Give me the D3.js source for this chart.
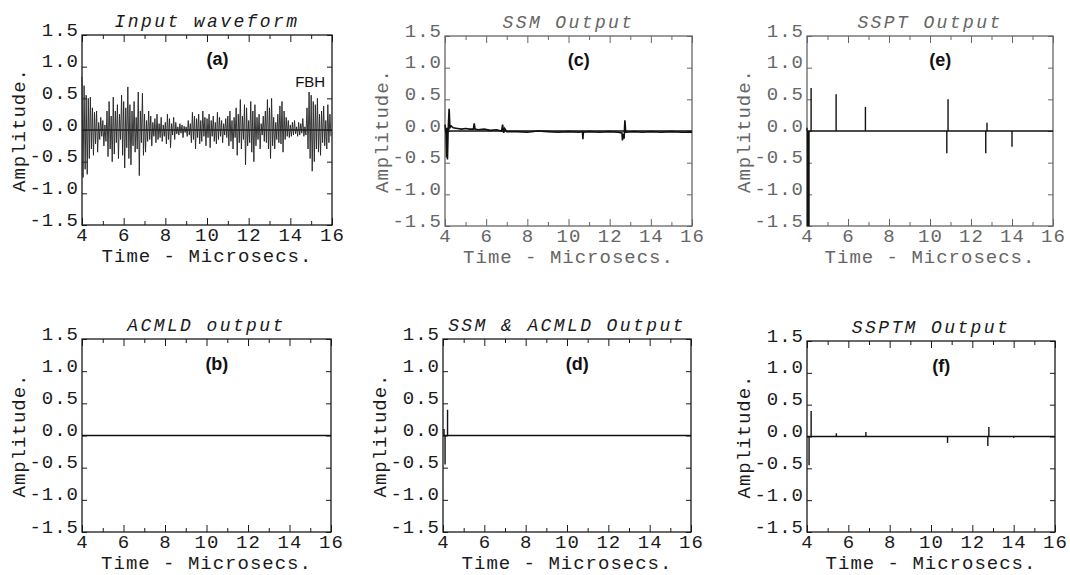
<!DOCTYPE html>
<html>
<head>
<meta charset="utf-8">
<script src="https://cdn.jsdelivr.net/npm/d3@7"></script>
<style>
  body { margin: 0; background: #fff; }
  .tick text, .lbl { font-family: "Liberation Mono", "DejaVu Sans Mono", monospace; font-size: 19px; letter-spacing: 1px; }
  .ttl { font-family: "Liberation Mono", "DejaVu Sans Mono", monospace; font-size: 18px; font-style: italic; letter-spacing: 2.4px; }
  .tag { font-family: "Liberation Sans", Arial, sans-serif; font-size: 18px; font-weight: bold; }
</style>
</head>
<body>
<div id="chart"></div>
<script>
const width = 1070, height = 575;

const titles = ['Input waveform', 'ACMLD output', 'SSM Output', 'SSM & ACMLD Output', 'SSPT Output', 'SSPTM Output'];
const tags = ['(a)', '(b)', '(c)', '(d)', '(e)', '(f)'];
const xTicks = [4, 5, 6, 7, 8, 9, 10, 11, 12, 13, 14, 15, 16];
const yTicks = [-1.5, -1.0, -0.5, 0.0, 0.5, 1.0, 1.5];

// (a) input waveform, one extremum every 0.05 us from 4.0 us
const waveStart = 4.0, waveStep = 0.05;
const inputWave = [
  0.84, -0.75, 0.70, -0.62, 0.55, -0.70, 0.50, -0.45, 0.52, -0.30, 0.35, -0.40, 0.28, -0.22, 0.30, -0.35, 0.12, -0.15, 0.20, -0.10,
  0.15, -0.25, 0.08, -0.18, 0.30, -0.42, 0.45, -0.30, 0.22, -0.50, 0.52, -0.38, 0.30, -0.20, 0.40, -0.45, 0.25, -0.15, 0.55, -0.40,
  0.45, -0.60, 0.35, -0.28, 0.68, -0.45, 0.40, -0.55, 0.30, -0.25, 0.45, -0.35, 0.20, -0.30, 0.60, -0.72, 0.30, -0.20, 0.58, -0.40,
  0.25, -0.35, 0.15, -0.18, 0.30, -0.15, 0.22, -0.25, 0.12, -0.10, 0.18, -0.20, 0.25, -0.15, 0.10, -0.12, 0.20, -0.18, 0.08, -0.10,
  0.12, -0.22, 0.25, -0.15, 0.18, -0.28, 0.10, -0.08, 0.20, -0.15, 0.12, -0.06, 0.05, -0.08, 0.10, -0.05, 0.08, -0.12, 0.06, -0.04,
  0.05, -0.10, 0.15, -0.08, 0.10, -0.20, 0.28, -0.15, 0.22, -0.30, 0.18, -0.12, 0.25, -0.22, 0.15, -0.18, 0.30, -0.10, 0.20, -0.25,
  0.18, -0.12, 0.25, -0.28, 0.15, -0.10, 0.22, -0.18, 0.12, -0.22, 0.28, -0.15, 0.20, -0.10, 0.15, -0.20, 0.10, -0.08, 0.18, -0.12,
  0.22, -0.25, 0.30, -0.18, 0.15, -0.30, 0.20, -0.12, 0.35, -0.40, 0.25, -0.20, 0.48, -0.30, 0.22, -0.15, 0.40, -0.55, 0.35, -0.25,
  0.15, -0.20, 0.45, -0.35, 0.30, -0.50, 0.40, -0.25, 0.20, -0.15, 0.25, -0.30, 0.10, -0.08, 0.22, -0.18, 0.30, -0.20, 0.48, -0.30,
  0.35, -0.45, 0.50, -0.25, 0.20, -0.30, 0.12, -0.15, 0.25, -0.20, 0.38, -0.22, 0.45, -0.35, 0.30, -0.15, 0.20, -0.10, 0.15, -0.12,
  0.08, -0.10, 0.12, -0.08, 0.15, -0.06, 0.05, -0.10, 0.12, -0.08, 0.10, -0.05, 0.18, -0.10, 0.05, -0.08, 0.35, -0.30, 0.60, -0.45,
  0.55, -0.65, 0.45, -0.50, 0.40, -0.30, 0.50, -0.35, 0.25, -0.40, 0.30, -0.20, 0.38, -0.25, 0.15, -0.30, 0.40, -0.20, 0.25, -0.10
];

// (c) SSM output trace
const ssmTimes = [4.0, 4.05, 4.08, 4.1, 4.12, 4.15, 4.2, 4.24, 4.3, 4.4, 4.6, 4.8, 5.0, 5.2, 5.38, 5.42, 5.46, 5.6, 5.9, 6.2, 6.5,
  6.75, 6.8, 6.85, 6.9, 7.0, 7.5, 8.0, 8.5, 9.0, 9.5, 10.0, 10.5, 10.68, 10.7, 10.72, 11.0, 11.5, 12.0, 12.4, 12.6, 12.62, 12.66,
  12.7, 12.74, 12.78, 13.2, 13.6, 14.0, 14.5, 15.0, 15.5, 16.0];
const ssmValues = [0.10, -0.05, -0.42, 0.05, -0.45, 0.00, 0.35, 0.05, 0.08, 0.05, 0.04, 0.03, 0.04, 0.03, 0.03, 0.12, 0.03, 0.02, 0.03, 0.01, 0.02,
  0.00, 0.10, -0.03, 0.04, -0.01, -0.01, -0.02, 0.00, -0.01, -0.02, -0.01, -0.02, -0.01, -0.13, -0.02, -0.01, -0.02, -0.01, -0.02, -0.03, -0.15, -0.05,
  -0.12, 0.17, -0.02, -0.01, -0.02, -0.01, -0.02, -0.01, -0.02, -0.02];

// spikes from zero: time and amplitude
const ssmAcmldTimes = [4.05, 4.1, 4.22];
const ssmAcmldValues = [0.10, -0.45, 0.40];
const ssptTimes = [4.0, 4.06, 4.2, 5.42, 6.85, 10.82, 10.88, 12.72, 12.78, 14.0];
const ssptValues = [0.05, -1.5, 0.68, 0.58, 0.38, -0.35, 0.50, -0.35, 0.13, -0.25];
const ssptmTimes = [4.1, 4.2, 5.42, 6.85, 10.8, 12.75, 12.8, 14.0];
const ssptmValues = [-0.45, 0.40, 0.05, 0.07, -0.10, -0.15, 0.15, -0.02];

const panels = [
  { box: [82, 35, 332, 225], kind: 'wave' },
  { box: [82, 339, 331, 532], kind: 'flat' },
  { box: [445, 36, 692, 226], kind: 'trace', ink: '#666' },
  { box: [443, 339, 691, 532], kind: 'spikes', t: ssmAcmldTimes, v: ssmAcmldValues },
  { box: [807, 36, 1053, 226], kind: 'spikes', t: ssptTimes, v: ssptValues, ink: '#666' },
  { box: [807, 341, 1055, 532], kind: 'spikes', t: ssptmTimes, v: ssptmValues }
];

const svg = d3.select('#chart').append('svg')
  .attr('width', width)
  .attr('height', height);

panels.forEach((p, i) => {
  const [x0, y0, x1, y1] = p.box;
  const ink = p.ink || '#1a1a1a';
  const x = d3.scaleLinear().domain([4, 16]).range([x0, x1]);
  const y = d3.scaleLinear().domain([-1.5, 1.5]).range([y1, y0]);
  const g = svg.append('g').attr('color', ink).attr('fill', ink);

  const tickLen = d => (d % 2 === 0 ? 7 : 4);

  const bottom = g.append('g')
    .attr('transform', `translate(0,${y1})`)
    .call(d3.axisBottom(x).tickValues(xTicks).tickSize(-5).tickPadding(2));
  bottom.selectAll('.tick line').attr('y2', d => -tickLen(d));
  bottom.selectAll('.tick text').filter(d => d % 2 !== 0).remove();

  const top = g.append('g')
    .attr('transform', `translate(0,${y0})`)
    .call(d3.axisTop(x).tickValues(xTicks).tickSize(-5));
  top.selectAll('.tick line').attr('y2', d => tickLen(d));
  top.selectAll('.tick text').remove();

  const left = g.append('g')
    .attr('transform', `translate(${x0},0)`)
    .call(d3.axisLeft(y).tickValues(yTicks).tickSize(-5).tickPadding(3)
      .tickFormat(d => d.toFixed(1)));
  left.selectAll('.tick text').attr('dy', 0);

  const right = g.append('g')
    .attr('transform', `translate(${x1},0)`)
    .call(d3.axisRight(y).tickValues(yTicks).tickSize(-5));
  right.selectAll('.tick text').remove();

  g.selectAll('.domain').remove();
  g.selectAll('.tick text').attr('fill', ink);

  g.append('rect')
    .attr('x', x0).attr('y', y0)
    .attr('width', x1 - x0).attr('height', y1 - y0)
    .attr('fill', 'none').attr('stroke', ink).attr('stroke-width', 1.3);

  // zero line
  g.append('line')
    .attr('x1', x(4)).attr('x2', x(16))
    .attr('y1', y(0)).attr('y2', y(0))
    .attr('stroke', '#111').attr('stroke-width', 1.5);

  if (p.kind === 'wave') {
    const pts = inputWave.map((v, k) => [waveStart + k * waveStep, v]);
    g.append('path')
      .datum(pts)
      .attr('fill', 'none')
      .attr('stroke', '#222')
      .attr('stroke-width', 0.9)
      .attr('d', d3.line().x(d => x(d[0])).y(d => y(d[1])));
  } else if (p.kind === 'trace') {
    g.append('path')
      .datum(ssmTimes.map((t, k) => [t, ssmValues[k]]))
      .attr('fill', 'none')
      .attr('stroke', '#111')
      .attr('stroke-width', 1.6)
      .attr('d', d3.line().x(d => x(d[0])).y(d => y(d[1])));
  } else if (p.kind === 'spikes') {
    g.selectAll('.spike')
      .data(p.t.map((t, k) => [t, p.v[k]]))
      .join('line')
      .attr('class', 'spike')
      .attr('x1', d => x(d[0])).attr('x2', d => x(d[0]))
      .attr('y1', y(0)).attr('y2', d => y(d[1]))
      .attr('stroke', '#111')
      .attr('stroke-width', d => (d[1] <= -1.5 ? 3 : 1.4));
  }

  // title, axis labels, tag
  g.append('text')
    .attr('class', 'ttl')
    .attr('x', (x0 + x1) / 2)
    .attr('y', y0 - 8)
    .attr('text-anchor', 'middle')
    .text(titles[i]);

  g.append('text')
    .attr('class', 'lbl')
    .attr('x', (x0 + x1) / 2)
    .attr('y', y1 + 37)
    .attr('text-anchor', 'middle')
    .attr('letter-spacing', '2.6px')
    .text('Time - Microsecs.');

  g.append('text')
    .attr('class', 'lbl')
    .attr('transform', `translate(${x0 - 57},${(y0 + y1) / 2}) rotate(-90)`)
    .attr('text-anchor', 'middle')
    .attr('letter-spacing', '2px')
    .text('Amplitude.');

  g.append('text')
    .attr('class', 'tag')
    .attr('x', x(10.5))
    .attr('y', y(1.02))
    .attr('text-anchor', 'middle')
    .attr('fill', '#111')
    .text(tags[i]);

  if (i === 0) {
    g.append('text')
      .attr('class', 'tag')
      .attr('x', x(14.95))
      .attr('y', y(0.68))
      .attr('text-anchor', 'middle')
      .style('font-size', '15px')
      .style('font-weight', 'normal')
      .attr('fill', '#111')
      .text('FBH');
  }
});
</script>
</body>
</html>
